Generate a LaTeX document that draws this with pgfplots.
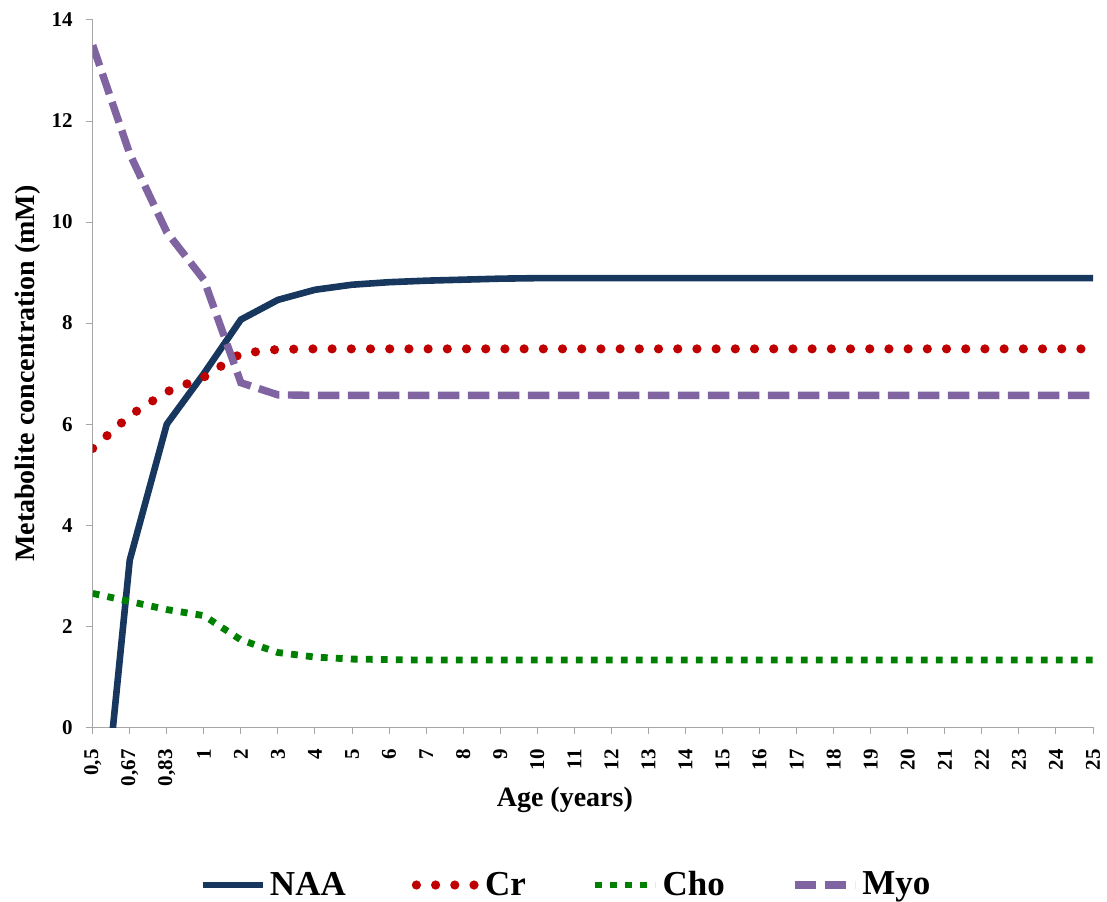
\documentclass[border=0pt]{standalone}
\usepackage{fontspec}
\setmainfont{Liberation Serif}
\usepackage{pgfplots}
\pgfplotsset{compat=1.18}
\usepackage{pgfplotstable}
\definecolor{naa}{RGB}{23,55,94}
\definecolor{cr}{RGB}{192,0,0}
\definecolor{cho}{RGB}{0,128,0}
\definecolor{myo}{RGB}{128,100,162}
\definecolor{axgray}{RGB}{166,166,166}

\pgfplotstableread{
x NAA Cr Cho Myo
0 -4.0 5.52 2.65 13.5
1 3.31 6.17 2.49 11.35
2 6.00 6.64 2.33 9.80
3 7.00 6.93 2.21 8.86
4 8.07 7.40 1.73 6.82
5 8.46 7.48 1.48 6.58
6 8.66 7.49 1.39 6.57
7 8.76 7.49 1.35 6.57
8 8.81 7.49 1.34 6.57
9 8.84 7.49 1.33 6.57
10 8.86 7.49 1.33 6.57
11 8.88 7.49 1.33 6.57
12 8.89 7.49 1.33 6.57
13 8.89 7.49 1.33 6.57
14 8.89 7.49 1.33 6.57
15 8.89 7.49 1.33 6.57
16 8.89 7.49 1.33 6.57
17 8.89 7.49 1.33 6.57
18 8.89 7.49 1.33 6.57
19 8.89 7.49 1.33 6.57
20 8.89 7.49 1.33 6.57
21 8.89 7.49 1.33 6.57
22 8.89 7.49 1.33 6.57
23 8.89 7.49 1.33 6.57
24 8.89 7.49 1.33 6.57
25 8.89 7.49 1.33 6.57
26 8.89 7.49 1.33 6.57
27 8.89 7.49 1.33 6.57
}\data

\begin{document}
\begin{tikzpicture}
\begin{axis}[
  scale only axis,
  width=500.15pt, height=353.65pt,
  xmin=0, xmax=27, ymin=0, ymax=14,
  axis lines=left,
  axis line style={-, draw=axgray, line width=0.6pt},
  x axis line style={-}, y axis line style={-},
  tick align=outside,
  major tick length=3.5pt,
  tick style={draw=axgray, line width=0.5pt},
  xtick={0,...,27},
  xticklabels={{0,5},{0,67},{0,83},1,2,3,4,5,6,7,8,9,10,11,12,13,14,15,16,17,18,19,20,21,22,23,24,25},
  ytick={0,2,...,14},
  /pgf/number format/assume math mode=true,
  ticklabel style={font=\bfseries\fontsize{10.5}{12}\selectfont},
  xticklabel style={rotate=90, anchor=east, xshift=-4pt},
  yticklabel style={anchor=east, xshift=-3pt},
  xlabel={Age (years)},
  ylabel={Metabolite concentration (mM)},
  label style={font=\bfseries\fontsize{14}{16}\selectfont},
  xlabel style={at={(axis description cs:0.472,-0.103)}, anchor=center},
  ylabel style={at={(axis description cs:-0.0647,0.5)}, anchor=center, rotate=0},
  legend columns=4,
  legend style={at={(axis description cs:0.474,-0.223)}, anchor=center, draw=none,
    font=\bfseries\fontsize{17.5}{20}\selectfont,
    /tikz/every even column/.append style={column sep=31pt},
    /tikz/every odd column/.append style={column sep=0pt}},
  legend image code/.code={\draw[#1] (0pt,0pt) -- (30pt,0pt);},
]
\addplot[naa, line width=3.3pt, line join=round] table[x=x, y=NAA] {\data};
\addlegendentry{NAA}
\addplot[cr, line width=4.6pt, line cap=round, dash pattern=on 0pt off 9.6pt] table[x=x, y=Cr] {\data};
\addlegendentry{Cr}
\addplot[cho, line width=3.4pt, dash pattern=on 3.4pt off 4.1pt] table[x=x, y=Cho] {\data};
\addlegendentry{Cho}
\addplot[myo, line width=3.7pt, dash pattern=on 10.8pt off 4.2pt] table[x=x, y=Myo] {\data};
\addlegendentry{Myo}
\end{axis}
\pgfresetboundingbox
\path[use as bounding box] ([xshift=-46.35pt,yshift=-87.35pt]current axis.south west) rectangle ([xshift=7pt,yshift=10pt]current axis.north east);
\end{tikzpicture}
\end{document}
